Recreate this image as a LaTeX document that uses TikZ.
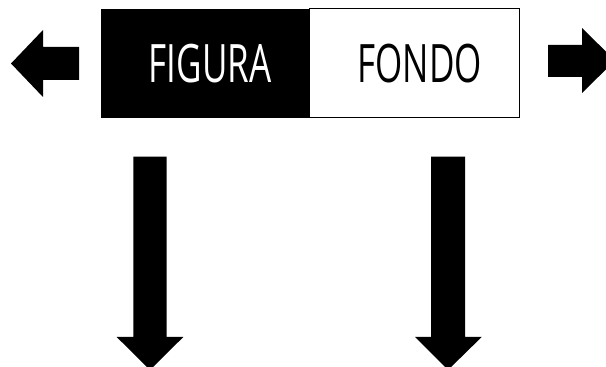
\documentclass[tikz,border=0pt]{standalone}
\usepackage{fontspec}
\setsansfont{Open Sans}
\usetikzlibrary{positioning}

\begin{document}
\begin{tikzpicture}[x=1pt,y=1pt]
    % figure / ground pair with block arrows
    \tikzset{figbox/.style = {shape=rectangle,fill=black,text=white,inner sep=0pt,
        minimum width=208pt,minimum height=109pt,font=\sffamily\fontsize{53}{53}\selectfont}}
    \tikzset{gndbox/.style = {figbox,fill=white,text=black,draw=black,line width=1pt,
        minimum width=210pt}}
    \tikzset{blockarrow/.style = {fill=black}}
    \newcommand{\narrow}[1]{\hspace*{10pt}\scalebox{0.66}[1]{#1}}

    \useasboundingbox (0,0) rectangle (606,367);

    % boxes
    \node[figbox] (figura) at (205,303.5) {\narrow{FIGURA}};
    \node[gndbox] (fondo) [right=0pt of figura] {\narrow{FONDO}};

    % side arrows
    \fill[blockarrow] (11,303.5) -- (43,337) -- (43,320) -- (79,320)
        -- (79,287) -- (43,287) -- (43,270) -- cycle;
    \fill[blockarrow] (615,306.5) -- (582,339) -- (582,322) -- (548,322)
        -- (548,290) -- (582,290) -- (582,274) -- cycle;

    % down arrows
    \fill[blockarrow] (150,-3) -- (116.7,30) -- (133.3,30) -- (133.3,210.3)
        -- (166.7,210.3) -- (166.7,30) -- (183.3,30) -- cycle;
    \fill[blockarrow] (448,-3) -- (415,30) -- (431,30) -- (431,210.3)
        -- (465,210.3) -- (465,30) -- (481.7,30) -- cycle;
\end{tikzpicture}
\end{document}
